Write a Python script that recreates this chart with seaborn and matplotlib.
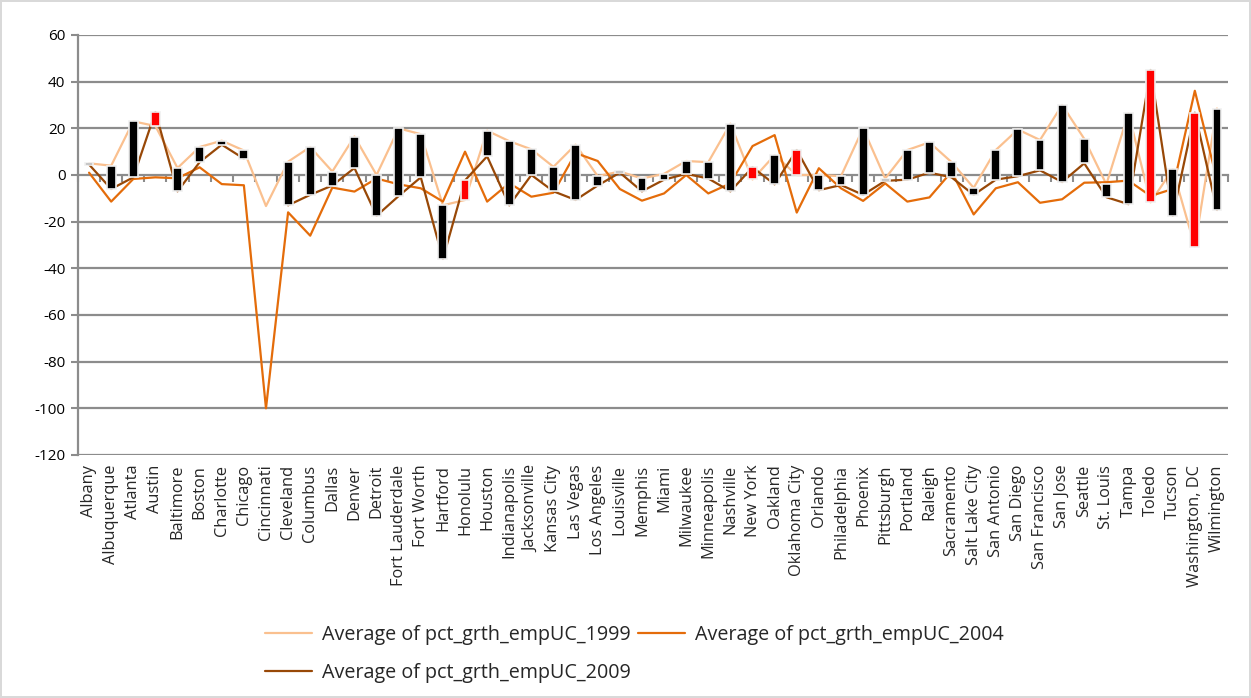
import numpy as np
import pandas as pd
import matplotlib
matplotlib.use("Agg")
import matplotlib.pyplot as plt
import seaborn as sns

cities = ["Albany", "Albuquerque", "Atlanta", "Austin", "Baltimore", "Boston", "Charlotte",
          "Chicago", "Cincinnati", "Cleveland", "Columbus", "Dallas", "Denver", "Detroit",
          "Fort Lauderdale", "Fort Worth", "Hartford", "Honolulu", "Houston", "Indianapolis",
          "Jacksonville", "Kansas City", "Las Vegas", "Los Angeles", "Louisville", "Memphis",
          "Miami", "Milwaukee", "Minneapolis", "Nashville", "New York", "Oakland",
          "Oklahoma City", "Orlando", "Philadelphia", "Phoenix", "Pittsburgh", "Portland",
          "Raleigh", "Sacramento", "Salt Lake City", "San Antonio", "San Diego",
          "San Francisco", "San Jose", "Seattle", "St. Louis", "Tampa", "Toledo", "Tucson",
          "Washington, DC", "Wilmington"]

grth_1999 = [5, 4, 23, 21, 3, 12, 14.7, 10.5, -13.3, 5.7, 12, 1.5, 16.5, 0, 20, 17.5, -13,
             -10.7, 19, 14.5, 11, 3.5, 13, -0.5, 1.5, -1.5, 0.5, 6, 5.5, 22, -1.9, 8.5, 0, 0,
             -0.5, 20, -1.5, 10.7, 14, 5.5, -5.5, 10.7, 19.5, 15, 30, 15.5, -4, 26.5, -11.7,
             2.5, -30.7, 28.5]

grth_2004 = [1, -11.4, -1.7, -1, -1.4, 3.3, -3.9, -4.4, -100, -16, -26, -5.4, -7.1, -1.5, -4,
             -5.7, -11.4, 10, -11.4, -3.5, -9.3, -7.6, 9.4, 6, -6, -11, -7.9, 0, -7.9, -3.6,
             12.4, 17.1, -16.1, 2.9, -5.7, -11.1, -3.6, -11.4, -9.6, 1.4, -16.9, -5.7, -3.1,
             -11.9, -10.4, -3.3, -3.1, -2.4, -9, -6, 36.1, -2]

grth_2009 = [4.5, -6, -1, 27, -7, 5.5, 13, 7, np.nan, -13, -8.5, -4.5, 3, -17.5, -9, -1, -36,
             -2.3, 8, -13, 0, -7, -10.7, -4.5, 1, -7, -2, 0.5, -1.5, -7, 3.3, -4, 10.7, -6.5,
             -4.3, -8.5, -2.5, -2, 1, -1, -8.5, -2, -0.5, 2, -3, 5, -9.5, -12.5, 45, -17.5,
             26.7, -15]

series_names = ["Average of pct_grth_empUC_1999", "Average of pct_grth_empUC_2004",
                "Average of pct_grth_empUC_2009"]
y_ticks = [60, 40, 20, 0, -20, -40, -60, -80, -100, -120]

# ---- build data frames ----
x = np.arange(len(cities))
rows = []
for name, vals in zip(series_names, [grth_1999, grth_2004, grth_2009]):
    seg = 0
    for i, v in enumerate(vals):
        if np.isnan(v):
            seg += 1
            continue
        rows.append({"x": i, "value": v, "series": name, "segment": f"{name}_{seg}"})
long_df = pd.DataFrame(rows)

v99 = np.array(grth_1999, dtype=float)
v09 = np.array(grth_2009, dtype=float)

sns.set_theme(style="white")
plt.rcParams["font.family"] = ["Open Sans", "DejaVu Sans"]

fig = plt.figure(figsize=(12.51, 6.98), dpi=100)
fig.patch.set_facecolor("white")
fig.patch.set_edgecolor("#d9d9d9")
fig.patch.set_linewidth(1.5)
ax = fig.add_axes([78 / 1251, 1 - 455 / 698, (1228 - 78) / 1251, (455 - 35) / 698])

palette = {series_names[0]: "#FAC08F", series_names[1]: "#E46C0A", series_names[2]: "#984807"}

grid_c = "#8c8c8c"
for t in y_ticks:
    if t != 0:
        ax.axhline(t, color=grid_c, lw=1.6, zorder=0)

sns.lineplot(data=long_df, x="x", y="value", hue="series", units="segment",
             estimator=None, palette=palette, linewidth=1.6, ax=ax, zorder=2,
             hue_order=series_names)

# up/down bars between 1999 and 2009
mask = ~np.isnan(v09)
bx = x[mask]
lo = np.minimum(v99, v09)[mask]
hi = np.maximum(v99, v09)[mask]
cols = np.where(v09[mask] > v99[mask], "#FF0000", "#000000")
ax.bar(bx, hi - lo, bottom=lo, width=0.4, color=cols, edgecolor="#f0f0f0",
       linewidth=1.2, zorder=4)

ax.set_xlim(-0.5, len(cities) - 0.5)
ax.set_ylim(-120, 60)
ax.set_yticks(y_ticks)
ax.set_yticklabels([str(t) for t in y_ticks], fontsize=11, color="#000000")
ax.tick_params(axis="y", length=5, width=1.5, color=grid_c, direction="out", pad=4, left=True)

for s in ["top", "right"]:
    ax.spines[s].set_visible(False)
ax.spines["left"].set_color(grid_c)
ax.spines["left"].set_linewidth(1.6)
ax.spines["bottom"].set_position(("data", 0))
ax.spines["bottom"].set_color(grid_c)
ax.spines["bottom"].set_linewidth(1.6)
ax.spines["bottom"].set_zorder(1)
ax.set_xticks(np.arange(-0.5, len(cities), 1.0))
ax.set_xticklabels([])
ax.tick_params(axis="x", length=5, width=1.5, color=grid_c, direction="out", bottom=True)
ax.set_xlabel("")
ax.set_ylabel("")

sec = ax.secondary_xaxis(0.0)
sec.set_xticks(x)
sec.set_xticklabels(cities, rotation=90, fontsize=11.8, va="top", ha="center")
sec.tick_params(axis="x", length=0, pad=7)
sec.spines["bottom"].set_visible(False)

ax.get_legend().remove()
handles, labels = ax.get_legend_handles_labels()
order = [0, 2, 1]
fig.legend([handles[i] for i in order], [labels[i] for i in order], loc="upper left",
           bbox_to_anchor=(255 / 1251, 1 - 615 / 698), ncol=2, frameon=False,
           fontsize=14.2, handlelength=2.4, handletextpad=0.5, columnspacing=0.35,
           labelspacing=0.93, borderpad=0)

fig.savefig("out.png", dpi=100, facecolor="white", edgecolor=fig.get_edgecolor())
